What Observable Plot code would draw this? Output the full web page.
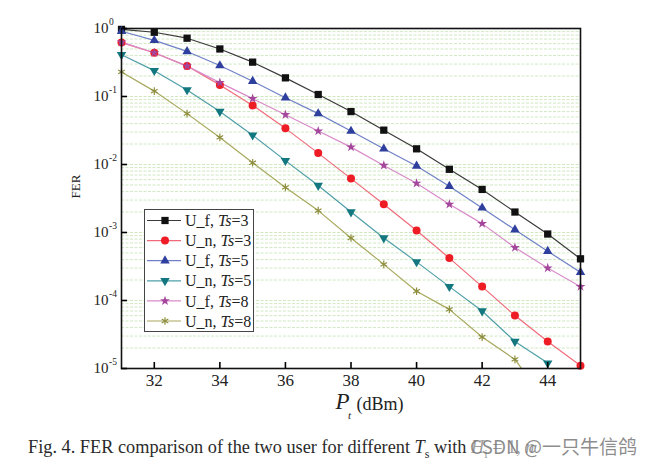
<!DOCTYPE html>
<html><head><meta charset="utf-8">
<script src="https://cdn.jsdelivr.net/npm/d3@7"></script>
<script src="https://cdn.jsdelivr.net/npm/@observablehq/plot@0.6"></script>
<style>
body{margin:0;background:#fff;}
#wrap{position:relative;width:654px;height:468px;overflow:hidden;}
#cap{position:absolute;left:28px;top:435px;font-family:"Liberation Serif",serif;font-size:18.3px;white-space:nowrap;color:#2a2a2a;line-height:24px;}
#wm{position:absolute;left:470px;top:434px;font-family:"Noto Sans CJK SC",sans-serif;font-size:19px;color:rgba(120,120,120,0.85);line-height:24px;white-space:nowrap;background:rgba(255,255,255,0.55);}
</style></head><body>
<div id="wrap"><div id="chart"></div>
<div id="cap">Fig. 4. FER comparison of the two user for different <i>T</i><sub style="font-size:12px">s</sub> with <i>H</i><sub style="font-size:12px">i</sub> = 1, <i>n</i></div>
<div id="wm">CSDN @一只牛信鸽</div></div>
<script>
const power = [31,32,33,34,35,36,37,38,39,40,41,42,43,44,45];
const ufTs3 = [0.97,0.88,0.72,0.50,0.32,0.188,0.107,0.060,0.032,0.017,0.0085,0.0043,0.0020,0.00095,0.00041];
const unTs3 = [0.62,0.44,0.28,0.148,0.074,0.034,0.0147,0.0062,0.0026,0.00107,0.00042,0.00016,0.00006,0.000025,0.000011];
const ufTs5 = [0.91,0.67,0.46,0.285,0.168,0.096,0.056,0.031,0.017,0.0095,0.0048,0.0023,0.0011,0.00053,0.00026];
const unTs5 = [0.41,0.24,0.125,0.060,0.027,0.0114,0.0049,0.0020,0.00083,0.00037,0.00016,0.00007,0.000025,0.000012,null];
const ufTs8 = [0.63,0.44,0.28,0.16,0.093,0.054,0.031,0.018,0.0097,0.0053,0.0026,0.00135,0.0006,0.0003,0.00016];
const unTs8 = [0.23,0.12,0.056,0.025,0.0106,0.0046,0.0021,0.00083,0.00034,0.000137,0.000074,0.000029,0.0000136,0.000003,null];

const seriesNames = ["U_f, |Ts|=3","U_n, |Ts|=3","U_f, |Ts|=5","U_n, |Ts|=5","U_f, |Ts|=8","U_n, |Ts|=8"];
const seriesValues = [ufTs3, unTs3, ufTs5, unTs5, ufTs8, unTs8];
const markerColors = ["#111111","#ee1c25","#2e3f9e","#13777f","#a4479c","#8f8f3f"];
const lineColors = ["#3a3a3a","#f06a7a","#6f80c6","#4f9fa8","#d98ac9","#a8a85e"];
const symbols = [d3.symbolSquare, d3.symbolCircle, d3.symbolTriangle, d3.symbolTriangle, d3.symbolStar, d3.symbolAsterisk];
const radii = [4.1, 4.0, 3.5, 3.5, 3.1, 3.6];
const rotations = [0,0,0,180,0,0];
const strokeSymbol = [false,false,false,false,false,true];

const xTicks = [32,34,36,38,40,42,44];
const decades = [1,1e-1,1e-2,1e-3,1e-4,1e-5];
const exponents = ["0","-1","-2","-3","-4","-5"];
const minor = [];
for (let e = -5; e < 0; e++) for (let k = 1; k <= 9; k++) minor.push(k * Math.pow(10, e));

const serif = "'Liberation Serif', 'Times New Roman', serif";
const marks = [];
marks.push(Plot.ruleY(minor, {y: d => d, stroke: "#c4e2b2", strokeWidth: 0.8, strokeDasharray: "3,1.5"}));
seriesValues.forEach((vals, i) => {
  const rows = power.map((x, j) => ({x, y: vals[j]})).filter(d => d.y != null);
  marks.push(Plot.line(rows, {x: "x", y: "y", stroke: lineColors[i], strokeWidth: 1.2, clip: true}));
});
seriesValues.forEach((vals, i) => {
  const rows = power.map((x, j) => ({x, y: vals[j]})).filter(d => d.y != null && d.y >= 1e-5);
  const opts = {x: "x", y: "y", symbol: symbols[i], r: radii[i], rotate: rotations[i]};
  if (strokeSymbol[i]) { opts.stroke = markerColors[i]; opts.fill = "none"; opts.strokeWidth = 1.2; }
  else { opts.fill = markerColors[i]; opts.stroke = "none"; }
  marks.push(Plot.dot(rows, opts));
});
marks.push(Plot.frame({stroke: "#111", strokeWidth: 1.6}));
marks.push(Plot.axisY({ticks: decades, tickSize: 6, dx: 6, tickFormat: () => "", label: null, strokeWidth: 1.6}));
marks.push(Plot.axisX({ticks: xTicks, tickSize: 6, dy: -6, tickFormat: () => "", label: null, strokeWidth: 1.6}));
marks.push(Plot.text(xTicks, {x: d => d, text: d => String(d), frameAnchor: "bottom", dy: 17, fontSize: 17, fontFamily: serif, fill: "#222"}));
marks.push(Plot.text(decades, {y: d => d, text: () => "10", frameAnchor: "left", dx: -13, textAnchor: "end", fontSize: 15, fontFamily: serif, fill: "#222"}));
marks.push(Plot.text(decades, {y: d => d, text: (d, i) => exponents[i], frameAnchor: "left", dx: -12.5, dy: -7, textAnchor: "start", fontSize: 9.5, fontFamily: serif, fill: "#222"}));
marks.push(Plot.text(["FER"], {text: d => d, frameAnchor: "left", dx: -46, rotate: -90, fontSize: 13, fontFamily: serif, fill: "#222"}));
marks.push(Plot.text(["P"], {text: d => d, frameAnchor: "bottom", dx: -8.5, dy: 40, fontSize: 23, fontStyle: "italic", fontFamily: serif, fill: "#222"}));
marks.push(Plot.text(["t"], {text: d => d, frameAnchor: "bottom", dx: -1.5, dy: 50, fontSize: 11, fontStyle: "italic", fontFamily: serif, fill: "#222"}));
marks.push(Plot.text(["(dBm)"], {text: d => d, frameAnchor: "bottom", dx: 5.5, dy: 41, textAnchor: "start", fontSize: 18, fontFamily: serif, fill: "#222"}));

const chart = Plot.plot({
  width: 654, height: 420,
  marginLeft: 121, marginRight: 74, marginTop: 28, marginBottom: 52,
  x: {domain: [31, 45]},
  y: {type: "log", domain: [1e-5, 1]},
  style: {background: "#fff", overflow: "visible"},
  marks
});
document.getElementById("chart").appendChild(chart);

// legend
const svg = d3.select(chart);
const lg = svg.append("g").attr("text-anchor", "start");
lg.append("rect").attr("x", 144.5).attr("y", 209.5).attr("width", 109).attr("height", 122)
  .attr("fill", "#fff").attr("stroke", "#444").attr("stroke-width", 1);
seriesNames.forEach((name, i) => {
  const cy = 220.5 + i * 20.1;
  lg.append("line").attr("x1", 147).attr("x2", 181).attr("y1", cy).attr("y2", cy)
    .attr("stroke", lineColors[i]).attr("stroke-width", 1.2);
  const p = lg.append("path").attr("d", d3.symbol(symbols[i], Math.PI * radii[i] * radii[i])())
    .attr("transform", `translate(165,${cy}) rotate(${rotations[i]})`);
  if (strokeSymbol[i]) p.attr("fill", "none").attr("stroke", markerColors[i]).attr("stroke-width", 1.2);
  else p.attr("fill", markerColors[i]);
  const parts = name.split("|");
  const t = lg.append("text").attr("x", 185).attr("y", cy).attr("dy", "0.35em")
    .attr("font-family", serif).attr("font-size", 16).attr("fill", "#222");
  t.append("tspan").text(parts[0]);
  t.append("tspan").attr("font-style", "italic").text(parts[1]);
  t.append("tspan").text(parts[2]);
});
</script>
</body></html>
